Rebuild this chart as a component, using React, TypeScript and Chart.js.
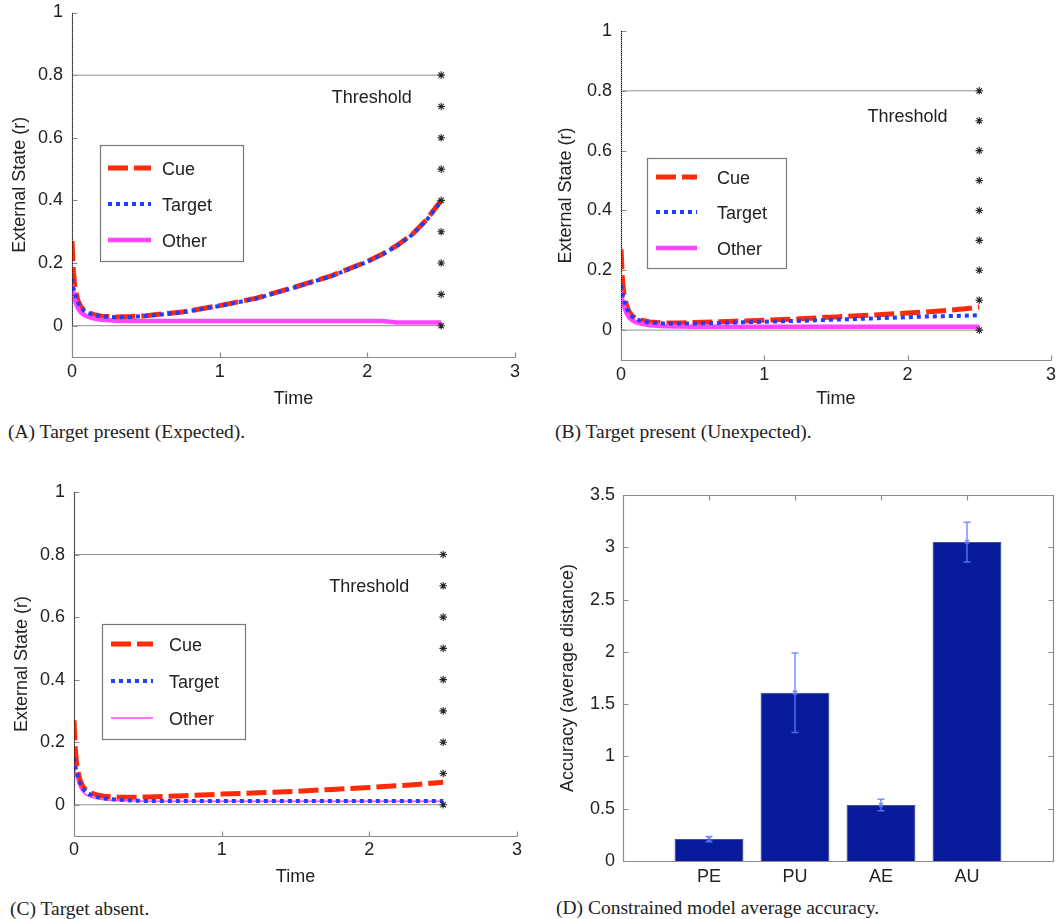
import React, { useEffect, useRef } from 'react';
import { Chart, registerables } from 'chart.js';

Chart.register(...registerables);
Chart.defaults.font.family = "'Liberation Sans', Arial, sans-serif";
Chart.defaults.font.size = 18;
Chart.defaults.color = '#222';

// ---------- data ----------
const TIME = [0, 0.01, 0.02, 0.04, 0.06, 0.08, 0.1, 0.15, 0.2, 0.3, 0.4, 0.5, 0.75, 1, 1.25, 1.5, 1.75, 2, 2.1, 2.2, 2.3, 2.4, 2.5];

const A_CUE = [0.27, 0.17, 0.12, 0.08, 0.06, 0.05, 0.043, 0.035, 0.03, 0.028, 0.029, 0.032, 0.044, 0.064, 0.088, 0.122, 0.158, 0.205, 0.228, 0.256, 0.29, 0.338, 0.4];
const A_TARGET = [0.15, 0.12, 0.1, 0.075, 0.058, 0.048, 0.042, 0.034, 0.029, 0.027, 0.028, 0.031, 0.043, 0.063, 0.087, 0.121, 0.157, 0.204, 0.227, 0.255, 0.289, 0.336, 0.398];
const A_OTHER = [0.13, 0.1, 0.08, 0.055, 0.042, 0.035, 0.03, 0.023, 0.019, 0.016, 0.015, 0.015, 0.015, 0.015, 0.015, 0.015, 0.015, 0.015, 0.015, 0.01, 0.01, 0.01, 0.01];

const B_CUE = [0.27, 0.17, 0.12, 0.08, 0.058, 0.047, 0.04, 0.032, 0.027, 0.024, 0.024, 0.025, 0.029, 0.033, 0.038, 0.044, 0.05, 0.057, 0.06, 0.063, 0.067, 0.071, 0.077];
const B_TARGET = [0.15, 0.12, 0.1, 0.072, 0.054, 0.044, 0.037, 0.029, 0.025, 0.022, 0.022, 0.022, 0.025, 0.028, 0.031, 0.035, 0.039, 0.043, 0.045, 0.046, 0.047, 0.048, 0.05];
const B_OTHER = [0.13, 0.1, 0.08, 0.055, 0.04, 0.032, 0.027, 0.02, 0.016, 0.013, 0.012, 0.011, 0.011, 0.011, 0.011, 0.011, 0.011, 0.011, 0.011, 0.011, 0.011, 0.011, 0.011];

const C_CUE = [0.27, 0.17, 0.12, 0.08, 0.058, 0.047, 0.04, 0.032, 0.027, 0.024, 0.024, 0.025, 0.029, 0.034, 0.038, 0.043, 0.049, 0.055, 0.058, 0.061, 0.064, 0.068, 0.072];
const C_TARGET = [0.15, 0.12, 0.1, 0.07, 0.052, 0.042, 0.035, 0.026, 0.02, 0.016, 0.013, 0.012, 0.012, 0.012, 0.012, 0.012, 0.012, 0.012, 0.012, 0.012, 0.012, 0.012, 0.012];
const C_OTHER = [0.13, 0.1, 0.08, 0.055, 0.04, 0.032, 0.027, 0.02, 0.016, 0.013, 0.012, 0.011, 0.011, 0.011, 0.011, 0.011, 0.011, 0.011, 0.011, 0.011, 0.011, 0.011, 0.011];

const THRESHOLD = 0.8;
const END_TIME = 2.5;
const STAR_LEVELS = [0, 0.1, 0.2, 0.3, 0.4, 0.5, 0.6, 0.7, 0.8];
const STATE_TICKS = [0, 0.2, 0.4, 0.6, 0.8, 1];
const TIME_TICKS = [0, 1, 2, 3];
const SERIES_LABELS = ['Cue', 'Target', 'Other'];

const CATEGORIES = ['PE', 'PU', 'AE', 'AU'];
const ACCURACY = [0.21, 1.61, 0.535, 3.05];
const ACCURACY_ERR = [0.025, 0.38, 0.055, 0.19];
const ACCURACY_TICKS = [0, 0.5, 1, 1.5, 2, 2.5, 3, 3.5];

// ---------- styles ----------
const RED = '#ff2a08';
const BLUE = '#1f3cff';
const MAGENTA = '#ff45ff';
const AXIS = '#8c8c8c';
const FONT = "18px 'Liberation Sans', Arial, sans-serif";

// ---------- plugins ----------
const px = (v: number) => Math.round(v) + 0.5;

const paperAxes = {
  id: 'paperAxes',
  beforeDatasetsDraw(chart: any, _a: any, opts: any) {
    const { ctx, chartArea: a, scales } = chart;
    const x = scales.x, y = scales.y;
    const L = 5;
    ctx.save();
    ctx.strokeStyle = AXIS;
    ctx.lineWidth = 1.2;
    ctx.beginPath();
    const l = px(a.left), r = px(a.right), t = px(a.top), b = px(a.bottom);
    if (opts.box) {
      ctx.rect(l, t, r - l, b - t);
    } else {
      ctx.moveTo(l, t);
      ctx.lineTo(l, b);
      ctx.lineTo(r, b);
    }
    y.ticks.forEach((tk: any) => {
      const py = px(y.getPixelForValue(tk.value));
      ctx.moveTo(l, py); ctx.lineTo(l + L, py);
      if (opts.box) { ctx.moveTo(r, py); ctx.lineTo(r - L, py); }
    });
    x.ticks.forEach((tk: any) => {
      const pxx = px(x.getPixelForValue(tk.value));
      ctx.moveTo(pxx, b); ctx.lineTo(pxx, b - L);
      if (opts.box) { ctx.moveTo(pxx, t); ctx.lineTo(pxx, t + L); }
    });
    ctx.stroke();
    ctx.restore();
  },
};

const paperLegend = {
  id: 'paperLegend',
  afterDatasetsDraw(chart: any, _a: any, opts: any) {
    if (!opts || !opts.box) return;
    const ctx = chart.ctx;
    const [bx, by, bw, bh] = opts.box;
    ctx.save();
    ctx.fillStyle = '#fff';
    ctx.fillRect(bx, by, bw, bh);
    ctx.strokeStyle = '#7a7a7a';
    ctx.lineWidth = 1.2;
    ctx.strokeRect(bx + 0.5, by + 0.5, bw, bh);
    chart.data.datasets.forEach((ds: any) => {
      const i = SERIES_LABELS.indexOf(ds.label);
      if (i < 0) return;
      const yy = opts.rows[i];
      ctx.strokeStyle = ds.borderColor;
      ctx.lineWidth = ds.borderWidth;
      ctx.lineCap = 'butt';
      ctx.setLineDash(ds.borderDash || []);
      ctx.beginPath();
      ctx.moveTo(opts.line[0], yy);
      ctx.lineTo(opts.line[1], yy);
      ctx.stroke();
      ctx.setLineDash([]);
      ctx.fillStyle = '#222';
      ctx.font = FONT;
      ctx.textAlign = 'left';
      ctx.textBaseline = 'middle';
      ctx.fillText(ds.label, opts.textX, yy + 2);
    });
    ctx.restore();
  },
};

const paperNote = {
  id: 'paperNote',
  afterDatasetsDraw(chart: any, _a: any, opts: any) {
    if (!opts || !opts.text) return;
    const { ctx, scales } = chart;
    ctx.save();
    ctx.fillStyle = '#222';
    ctx.font = FONT;
    ctx.textAlign = 'center';
    ctx.textBaseline = 'middle';
    ctx.fillText(opts.text, scales.x.getPixelForValue(opts.x), scales.y.getPixelForValue(opts.y));
    ctx.restore();
  },
};

const errorBars = {
  id: 'errorBars',
  afterDatasetsDraw(chart: any) {
    const { ctx, scales } = chart;
    const meta = chart.getDatasetMeta(0);
    ctx.save();
    ctx.strokeStyle = 'rgba(95,125,255,0.85)';
    ctx.lineWidth = 1.5;
    meta.data.forEach((bar: any, i: number) => {
      const x = bar.x;
      const yt = scales.y.getPixelForValue(ACCURACY[i] + ACCURACY_ERR[i]);
      const yb = scales.y.getPixelForValue(ACCURACY[i] - ACCURACY_ERR[i]);
      const ym = scales.y.getPixelForValue(ACCURACY[i]);
      ctx.beginPath();
      ctx.moveTo(x, yt); ctx.lineTo(x, yb);
      ctx.moveTo(x - 3.5, yt); ctx.lineTo(x + 3.5, yt);
      ctx.moveTo(x - 3.5, yb); ctx.lineTo(x + 3.5, yb);
      ctx.moveTo(x - 2, ym - 2); ctx.lineTo(x + 2, ym + 2);
      ctx.moveTo(x - 2, ym + 2); ctx.lineTo(x + 2, ym - 2);
      ctx.stroke();
    });
    ctx.restore();
  },
};

// ---------- configs ----------
const series = (label: string, ys: number[], color: string, width: number, dash: number[], order: number) => ({
  type: 'line',
  label,
  data: TIME.map((t, i) => ({ x: t, y: ys[i] })),
  borderColor: color,
  borderWidth: width,
  borderDash: dash,
  borderCapStyle: 'butt',
  borderJoinStyle: 'round',
  pointRadius: 0,
  tension: 0,
  order,
});

const guide = (label: string, data: { x: number; y: number }[], color: string, width: number, dash: number[], order: number) => ({
  type: 'line',
  label,
  data,
  borderColor: color,
  borderWidth: width,
  borderDash: dash,
  pointRadius: 0,
  order,
});

const noEdgePadding = (s: any) => {
  s.paddingTop = 0;
  s.paddingBottom = 0;
  s.paddingLeft = 0;
  s.paddingRight = 0;
};

function stateConfig(p: any) {
  return {
    type: 'line',
    data: {
      datasets: [
        series('Target', p.target, BLUE, 4, [4, 4], 1),
        series('Other', p.other, MAGENTA, p.otherWidth, [], 2),
        series('Cue', p.cue, RED, 5, [20, 6], 3),
        guide('t0', [{ x: 0, y: 0 }, { x: 0, y: 1 }], '#111', 2, [1, 1], 0),
        guide('thr', [{ x: 0, y: THRESHOLD }, { x: END_TIME, y: THRESHOLD }], '#939393', 1, [], 5),
        guide('zero', [{ x: 0, y: 0 }, { x: END_TIME, y: 0 }], '#939393', 1, [], 5),
        {
          type: 'line',
          label: 'stars',
          data: STAR_LEVELS.map((v) => ({ x: END_TIME, y: v })),
          showLine: false,
          pointStyle: 'star',
          pointRadius: 3.8,
          borderColor: '#262626',
          pointBorderWidth: 1.1,
          order: 0,
        },
      ],
    },
    options: {
      animation: false,
      responsive: false,
      devicePixelRatio: 1,
      events: [],
      layout: { padding: { top: p.padTop, right: p.padRight, left: 0, bottom: 0 } },
      plugins: {
        legend: { display: false },
        tooltip: { enabled: false },
        paperAxes: { box: false },
        paperLegend: p.legend,
        paperNote: { text: 'Threshold', x: p.noteX, y: p.noteY },
      },
      scales: {
        x: {
          type: 'linear',
          min: 0,
          max: 3,
          grid: { display: false, drawTicks: false },
          border: { display: false },
          afterBuildTicks: (s: any) => { s.ticks = TIME_TICKS.map((v) => ({ value: v })); },
          afterFit: (s: any) => { s.height = p.xHeight; noEdgePadding(s); },
          ticks: { padding: p.xTickPad, autoSkip: false, maxRotation: 0, callback: (v: any) => String(v) },
          title: { display: true, text: 'Time', padding: { top: 0, bottom: p.xTitlePad } },
        },
        y: {
          type: 'linear',
          min: -0.1,
          max: 1,
          grid: { display: false, drawTicks: false },
          border: { display: false },
          afterBuildTicks: (s: any) => { s.ticks = STATE_TICKS.map((v) => ({ value: v })); },
          afterFit: (s: any) => { s.width = p.yWidth; noEdgePadding(s); },
          ticks: { padding: 9, autoSkip: false, callback: (v: any) => String(Math.round(v * 10) / 10) },
          title: { display: true, text: 'External State (r)', padding: { top: p.yTitlePad, bottom: 0 } },
        },
      },
    },
    plugins: [paperAxes, paperLegend, paperNote],
  };
}

function accuracyConfig() {
  return {
    type: 'bar',
    data: {
      datasets: [
        {
          label: 'Accuracy',
          data: CATEGORIES.map((_, i) => ({ x: i + 1, y: ACCURACY[i] })),
          backgroundColor: '#071b9b',
          borderColor: '#2b2f70',
          borderWidth: 0.8,
          barPercentage: 0.8,
          categoryPercentage: 1,
        },
      ],
    },
    options: {
      animation: false,
      responsive: false,
      devicePixelRatio: 1,
      events: [],
      layout: { padding: { top: 25, right: 3, left: 0, bottom: 0 } },
      plugins: {
        legend: { display: false },
        tooltip: { enabled: false },
        paperAxes: { box: true },
      },
      scales: {
        x: {
          type: 'linear',
          offset: false,
          min: 0,
          max: 5,
          grid: { display: false, drawTicks: false, offset: false },
          border: { display: false },
          afterBuildTicks: (s: any) => { s.ticks = CATEGORIES.map((_, i) => ({ value: i + 1 })); },
          afterFit: (s: any) => { s.height = 34; noEdgePadding(s); },
          ticks: { padding: 5, autoSkip: false, maxRotation: 0, callback: (v: any) => CATEGORIES[Math.round(v) - 1] ?? '' },
        },
        y: {
          type: 'linear',
          min: 0,
          max: 3.5,
          grid: { display: false, drawTicks: false },
          border: { display: false },
          afterBuildTicks: (s: any) => { s.ticks = ACCURACY_TICKS.map((v) => ({ value: v })); },
          afterFit: (s: any) => { s.width = 83; noEdgePadding(s); },
          ticks: { padding: 8, autoSkip: false, callback: (v: any) => String(v) },
          title: { display: true, text: 'Accuracy (average distance)', padding: { top: 17, bottom: 0 } },
        },
      },
    },
    plugins: [paperAxes, errorBars],
  };
}

const PANELS = [
  {
    key: 'A', left: 0, top: 0, width: 530, height: 420,
    config: () => stateConfig({
      cue: A_CUE, target: A_TARGET, other: A_OTHER, otherWidth: 4.5,
      padTop: 12.5, padRight: 15, yWidth: 72, xHeight: 63, xTickPad: 4, xTitlePad: 10, yTitlePad: 9,
      noteX: 2.03, noteY: 0.726,
      legend: { box: [100, 145, 143, 116], line: [108, 151], textX: 162, rows: [168, 204, 240] },
    }),
  },
  {
    key: 'B', left: 540, top: 0, width: 516, height: 420,
    config: () => stateConfig({
      cue: B_CUE, target: B_TARGET, other: B_OTHER, otherWidth: 4.5,
      padTop: 31, padRight: 5, yWidth: 81, xHeight: 60, xTickPad: 4, xTitlePad: 10, yTitlePad: 15,
      noteX: 2.0, noteY: 0.713,
      legend: { box: [107, 158, 139, 110], line: [116, 157], textX: 177, rows: [177, 212, 248] },
    }),
  },
  {
    key: 'C', left: 0, top: 470, width: 530, height: 425,
    config: () => stateConfig({
      cue: C_CUE, target: C_TARGET, other: C_OTHER, otherWidth: 1.6,
      padTop: 22, padRight: 13, yWidth: 74, xHeight: 59, xTickPad: 3, xTitlePad: 7, yTitlePad: 11,
      noteX: 2.0, noteY: 0.695,
      legend: { box: [102, 154, 143, 115], line: [111, 153], textX: 169, rows: [174, 211, 248] },
    }),
  },
  {
    key: 'D', left: 540, top: 470, width: 516, height: 425,
    config: accuracyConfig,
  },
];

const CAPTIONS = [
  { text: '(A) Target present (Expected).', left: 8, top: 422 },
  { text: '(B) Target present (Unexpected).', left: 555, top: 422 },
  { text: '(C) Target absent.', left: 10, top: 899 },
  { text: '(D) Constrained model average accuracy.', left: 556, top: 898 },
];

function ChartBox({ left, top, width, height, config }: any) {
  const ref = useRef<HTMLCanvasElement>(null);
  useEffect(() => {
    const chart = new Chart(ref.current as HTMLCanvasElement, config() as any);
    return () => chart.destroy();
  }, []);
  return (
    <canvas
      ref={ref}
      width={width}
      height={height}
      style={{ position: 'absolute', left, top, width, height }}
    />
  );
}

export default function App() {
  return (
    <div style={{ position: 'absolute', left: 0, top: 0, width: 1056, height: 919, background: '#fff', overflow: 'hidden' }}>
      {PANELS.map((p) => (
        <ChartBox key={p.key} left={p.left} top={p.top} width={p.width} height={p.height} config={p.config} />
      ))}
      {CAPTIONS.map((c) => (
        <div
          key={c.text}
          style={{
            position: 'absolute',
            left: c.left,
            top: c.top,
            fontFamily: "'Liberation Serif', 'Times New Roman', serif",
            fontSize: 19.5,
            lineHeight: '20px',
            color: '#222',
            whiteSpace: 'nowrap',
          }}
        >
          {c.text}
        </div>
      ))}
    </div>
  );
}
